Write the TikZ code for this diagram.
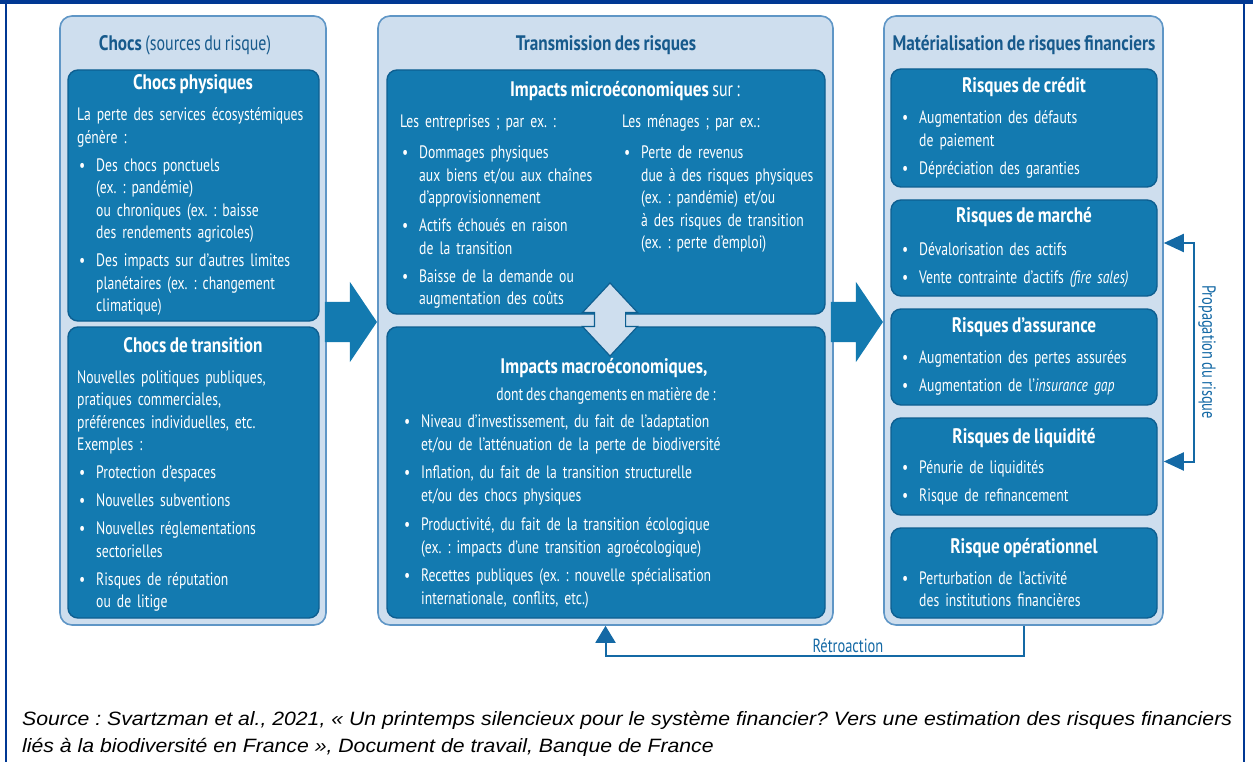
\documentclass[tikz,border=0pt]{standalone}
\usepackage{fontspec}
\setmainfont{PT Sans}[FakeStretch=0.76, WordSpace=0.8, BoldFeatures={FakeStretch=0.82}]
\newfontfamily\sourcefont{Liberation Sans}[FakeStretch=1.1]
\usepackage{tikz}
\usetikzlibrary{arrows.meta,calc,shapes.arrows}
\definecolor{BoxBlue}{RGB}{19,122,176}
\definecolor{BoxEdge}{RGB}{14,95,145}
\definecolor{PanelBlue}{RGB}{206,222,238}
\definecolor{PanelEdge}{RGB}{95,150,198}
\definecolor{HeadBlue}{RGB}{23,90,140}
\definecolor{FrameBlue}{RGB}{0,56,147}
\definecolor{LinkBlue}{RGB}{20,105,165}
\frenchspacing
% puces
\newcommand{\fitm}[1]{\let\\\newline\hangindent=19pt\hangafter=1\makebox[19pt][l]{\hspace{2pt}\textbullet}#1\par}
\newcommand{\itm}[1]{\par\vspace{5.5pt}\fitm{#1}}

\begin{document}
\begin{tikzpicture}[x=1pt, y=-1pt,
    panel/.style={draw=PanelEdge, fill=PanelBlue, line width=1.6, rounded corners=12, inner sep=0},
    box/.style={draw=BoxEdge, fill=BoxBlue, line width=1.4, rounded corners=10, inner sep=0},
    head/.style={anchor=base, inner sep=0, text=HeadBlue, font=\fontsize{21}{24}\selectfont\bfseries},
    boxtitle/.style={anchor=base, inner sep=0, text=white, font=\fontsize{21}{24}\selectfont\bfseries},
    body/.style={anchor=base west, inner sep=0, text=white, text width=340, font=\fontsize{18}{22.5}\selectfont},
    fatarrow/.style={single arrow, fill=BoxBlue, minimum height=52, minimum width=80, single arrow head extend=20, single arrow tip angle=112, inner xsep=0, inner ysep=20, anchor=tip},
    twoway/.style={double arrow, draw=BoxEdge, line width=1.2, fill=PanelBlue, minimum height=73, minimum width=54, double arrow head extend=12, double arrow tip angle=86, inner xsep=0, inner ysep=15, rotate=90},
    feedback/.style={draw=LinkBlue, line width=2, -{Triangle[width=20pt,length=17pt]}},
    propag/.style={draw=LinkBlue, line width=2, {Triangle[width=18pt,length=20pt]}-{Triangle[width=18pt,length=20pt]}},
    linklabel/.style={inner sep=0, text=LinkBlue, font=\fontsize{19}{22}\selectfont}
  ]
    \useasboundingbox (0,0) rectangle (1253,762);
    %% cadre
    \fill[FrameBlue] (0,0) rectangle (1253,4);
    \draw[FrameBlue, line width=2.5] (6,0) -- (6,762);
    \draw[FrameBlue, line width=2.5] (1244,0) -- (1244,762);

    %% panneaux
    \node[panel, minimum width=266, minimum height=609] (chocspanel) at (193,320.5) {};
    \node[panel, minimum width=455, minimum height=609] (transpanel) at (605.5,320.5) {};
    \node[panel, minimum width=279, minimum height=609] (matpanel) at (1023.5,320.5) {};
    \node[head] (chocshead) at (185,51) {Chocs \mdseries(sources du risque)};
    \node[head] (transhead) at (606,51) {Transmission des risques};
    \node[head] (mathead) at (1024,51) {Matérialisation de risques financiers};

    %% Chocs
    \node[box, minimum width=251, minimum height=251] (phys) at (193.5,195.5) {};
    \node[box, minimum width=251, minimum height=291] (transit) at (193.5,472.5) {};
    \node[boxtitle] (physttl) at (193,90) {Chocs physiques};
    \node[body] (physbody) at (77,121) {La perte des services écosystémiques\\génère :%
      \itm{Des chocs ponctuels\\(ex. : pandémie)\\ou chroniques (ex. : baisse\\des rendements agricoles)}%
      \itm{Des impacts sur d’autres limites\\planétaires (ex. : changement\\climatique)}};
    \node[boxtitle] (transitttl) at (193,352) {Chocs de transition};
    \node[body] (transitbody) at (77,383) {Nouvelles politiques publiques,\\pratiques commerciales,\\préférences individuelles, etc.\\Exemples :%
      \itm{Protection d’espaces}%
      \itm{Nouvelles subventions}%
      \itm{Nouvelles réglementations\\sectorielles}%
      \itm{Risques de réputation\\ou de litige}};

    %% Transmission
    \node[box, minimum width=438, minimum height=244] (micro) at (606,192) {};
    \node[box, minimum width=438, minimum height=291] (macro) at (606,472.5) {};
    \node[boxtitle] (microttl) at (625,97) {Impacts microéconomiques \mdseries sur :};
    \node[body] (firms) at (400,128) {Les entreprises ; par ex. :\vspace{3pt}%
      \itm{Dommages physiques\\aux biens et/ou aux chaînes\\d’approvisionnement}%
      \itm{Actifs échoués en raison\\de la transition}%
      \itm{Baisse de la demande ou\\augmentation des coûts}};
    \node[body] (homes) at (622,128) {Les ménages ; par ex.:\vspace{3pt}%
      \itm{Perte de revenus\\due à des risques physiques\\(ex. : pandémie) et/ou\\à des risques de transition\\(ex. : perte d’emploi)}};
    \node[boxtitle] (macrottl) at (604,373) {Impacts macroéconomiques,};
    \node[boxtitle, font=\fontsize{18}{22}\selectfont] (macrosub) at (606,400) {dont des changements en matière de :};
    \node[body, font=\fontsize{18}{23}\selectfont] (macrobody) at (402,427) {%
      \fitm{Niveau d’investissement, du fait de l'adaptation\\et/ou de l'atténuation de la perte de biodiversité}%
      \itm{Inflation, du fait de la transition structurelle\\et/ou des chocs physiques}%
      \itm{Productivité, du fait de la transition écologique\\(ex. : impacts d'une transition agroécologique)}%
      \itm{Recettes publiques (ex. : nouvelle spécialisation\\internationale, conflits, etc.)}};
    \node[twoway] (micromacro) at (610,319.5) {};

    %% Matérialisation
    \node[box, minimum width=266, minimum height=118] (credit) at (1024,128) {};
    \node[box, minimum width=266, minimum height=96] (marche) at (1024,248) {};
    \node[box, minimum width=266, minimum height=96] (assur) at (1024,357) {};
    \node[box, minimum width=266, minimum height=97] (liquid) at (1024,466.5) {};
    \node[box, minimum width=266, minimum height=90] (operat) at (1024,573) {};
    \node[boxtitle] (creditttl) at (1024,93) {Risques de crédit};
    \node[body] (creditbody) at (900,124) {\fitm{Augmentation des défauts\\de paiement}\itm{Dépréciation des garanties}};
    \node[boxtitle] (marchettl) at (1024,223) {Risques de marché};
    \node[body] (marchebody) at (900,255) {\fitm{Dévalorisation des actifs}\itm{Vente contrainte d’actifs \textit{(fire sales)}}};
    \node[boxtitle] (assurttl) at (1024,332) {Risques d’assurance};
    \node[body] (assurbody) at (900,363) {\fitm{Augmentation des pertes assurées}\itm{Augmentation de l’\textit{insurance gap}}};
    \node[boxtitle] (liquidttl) at (1024,443) {Risques de liquidité};
    \node[body] (liquidbody) at (900,473) {\fitm{Pénurie de liquidités}\itm{Risque de refinancement}};
    \node[boxtitle] (operatttl) at (1024,553) {Risque opérationnel};
    \node[body] (operatbody) at (900,584) {\fitm{Perturbation de l’activité\\des institutions financières}};

    %% fleches
    \node[fatarrow] (flowA) at ($(transpanel.west)+(0,1.5)$) {};
    \node[fatarrow] (flowB) at ($(matpanel.west)+(0,1.5)$) {};
    \draw[feedback] (matpanel.south) -- ++(0,30) -| (transpanel.south)
      node[linklabel, pos=.21, above=2pt] (retro) {Rétroaction};
    \draw[propag] ($(marche.east -| matpanel.east)+(0,-5)$) -- ++(30,0) |- ($(liquid.east -| matpanel.east)+(0,-5)$);
    \node[linklabel, rotate=-90] (propagtxt) at (1207,352) {Propagation du risque};

    %% source
    \node[anchor=base west, inner sep=0, font=\sourcefont\itshape\fontsize{19.3}{27}\selectfont] (src1) at (22,725) {Source : Svartzman et al., 2021, « Un printemps silencieux pour le système financier? Vers une estimation des risques financiers};
    \node[anchor=base west, inner sep=0, font=\sourcefont\itshape\fontsize{19.3}{27}\selectfont] (src2) at (22,752) {liés à la biodiversité en France », Document de travail, Banque de France};
\end{tikzpicture}
\end{document}
